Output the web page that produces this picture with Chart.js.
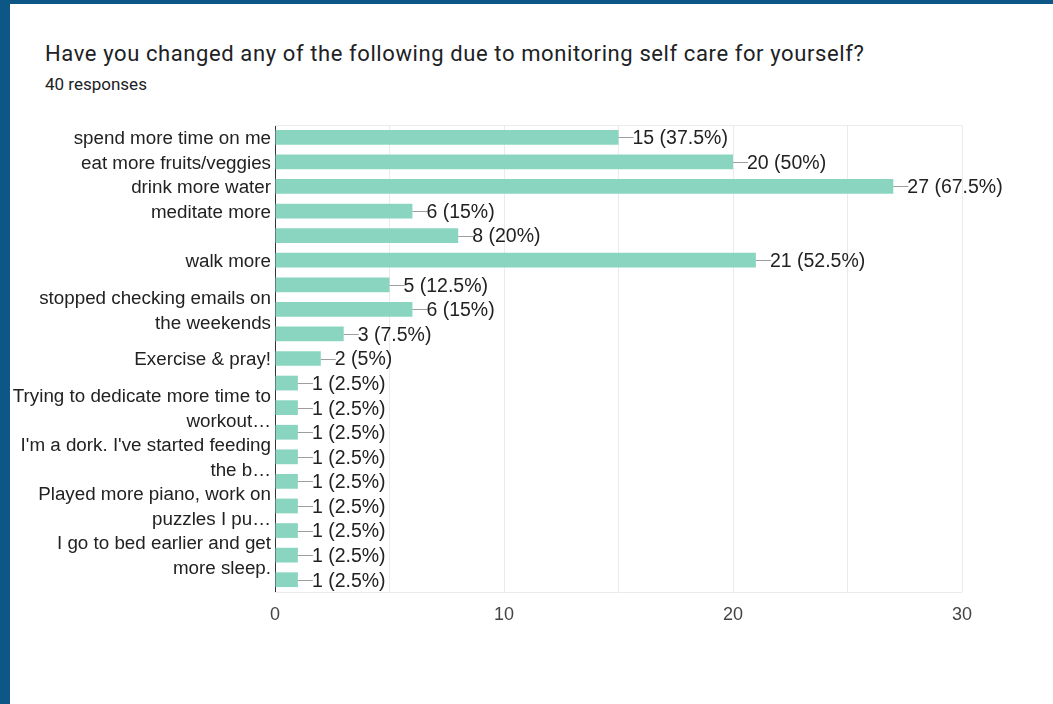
<!DOCTYPE html>
<html>
<head>
<meta charset="utf-8">
<script src="https://cdn.jsdelivr.net/npm/chart.js@4/dist/chart.umd.min.js"></script>
<style>
  html, body { margin: 0; padding: 0; background: #ffffff; }
  #wrap { position: relative; width: 1053px; height: 704px; overflow: hidden; background: #fff; }
  #chart { position: absolute; left: 0; top: 0; }
  .bl { position: absolute; left: 0; top: 0; width: 10px; height: 704px; background: #0c5785; z-index: 5; }
  .bt { position: absolute; left: 0; top: 0; width: 1053px; height: 4px; background: #0c5785; z-index: 5; }
  #title { position: absolute; left: 45px; top: 43px; font: 22px Roboto, "Open Sans", sans-serif; line-height: 22px; letter-spacing: 0.6px; color: #202124; white-space: nowrap; }
  #sub { position: absolute; left: 45px; top: 76px; font: 17px Roboto, "Open Sans", sans-serif; line-height: 17px; color: #202124; white-space: nowrap; }
</style>
</head>
<body>
<div id="wrap">
  <div class="bl"></div><div class="bt"></div>
  <div id="title">Have you changed any of the following due to monitoring self care for yourself?</div>
  <div id="sub">40 responses</div>
  <canvas id="chart" width="1053" height="704"></canvas>
</div>
<script>
const totalResponses = 40;
const categories = [
  "spend more time on me",
  "eat more fruits/veggies",
  "drink more water",
  "meditate more",
  "",
  "walk more",
  "",
  ["stopped checking emails on", "the weekends"],
  "",
  "Exercise & pray!",
  "",
  ["Trying to dedicate more time to", "workout\u2026"],
  "",
  ["I'm a dork. I've started feeding", "the b\u2026"],
  "",
  ["Played more piano, work on", "puzzles I pu\u2026"],
  "",
  ["I go to bed earlier and get", "more sleep."],
  ""
];
const counts = [15, 20, 27, 6, 8, 21, 5, 6, 3, 2, 1, 1, 1, 1, 1, 1, 1, 1, 1];
const xTickLabels = [0, 10, 20, 30];

const fam = "'Liberation Sans', Arial, sans-serif";

const borderPlugin = {
  id: 'plotBorder',
  beforeDatasetsDraw(chart) {
    const { ctx, chartArea: a } = chart;
    ctx.save();
    ctx.strokeStyle = '#ebebeb';
    ctx.lineWidth = 1;
    ctx.beginPath();
    ctx.moveTo(a.left, Math.round(a.top) + 0.5);
    ctx.lineTo(a.right, Math.round(a.top) + 0.5);
    ctx.moveTo(a.left, Math.round(a.bottom) + 0.5);
    ctx.lineTo(a.right, Math.round(a.bottom) + 0.5);
    ctx.stroke();
    ctx.restore();
  }
};

const valueLabelPlugin = {
  id: 'valueLabels',
  afterDatasetsDraw(chart) {
    const { ctx } = chart;
    const meta = chart.getDatasetMeta(0);
    ctx.save();
    ctx.font = "19.5px " + fam;
    ctx.textBaseline = 'middle';
    ctx.textAlign = 'left';
    meta.data.forEach((bar, i) => {
      const v = counts[i];
      const pct = Math.round(v / totalResponses * 1000) / 10;
      const y = Math.round(bar.y) + 0.5;
      ctx.strokeStyle = '#9e9e9e';
      ctx.lineWidth = 1;
      ctx.beginPath();
      ctx.moveTo(bar.x, y);
      ctx.lineTo(bar.x + 15, y);
      ctx.stroke();
      ctx.fillStyle = '#222222';
      ctx.fillText(v + ' (' + pct + '%)', bar.x + 14, bar.y + 1.5);
    });
    ctx.restore();
  }
};

new Chart(document.getElementById('chart'), {
  type: 'bar',
  data: {
    labels: categories,
    datasets: [{
      data: counts,
      backgroundColor: '#8ad5c0',
      borderWidth: 0,
      barPercentage: 0.6,
      categoryPercentage: 1.0
    }]
  },
  options: {
    indexAxis: 'y',
    responsive: false,
    animation: false,
    layout: { padding: { top: 125, right: 91, left: 0, bottom: 0 } },
    plugins: { legend: { display: false }, tooltip: { enabled: false }, title: { display: false } },
    scales: {
      y: {
        afterFit(s) { s.width = 275; },
        grid: { display: false, drawTicks: false },
        border: { display: true, color: '#333333', width: 1 },
        ticks: {
          autoSkip: false,
          padding: 4,
          labelOffset: 1.5,
          color: '#222222',
          font: { family: fam, size: 18.8, lineHeight: 1.33 }
        }
      },
      x: {
        min: 0,
        max: 30,
        afterFit(s) { s.height = 112; },
        grid: { color: '#ebebeb', drawTicks: false },
        border: { display: false },
        ticks: {
          stepSize: 5,
          padding: 12,
          color: '#444444',
          font: { family: fam, size: 18 },
          maxRotation: 0,
          autoSkip: false,
          callback: (v) => xTickLabels.includes(v) ? String(v) : ''
        }
      }
    }
  },
  plugins: [borderPlugin, valueLabelPlugin]
});
</script>
</body>
</html>
